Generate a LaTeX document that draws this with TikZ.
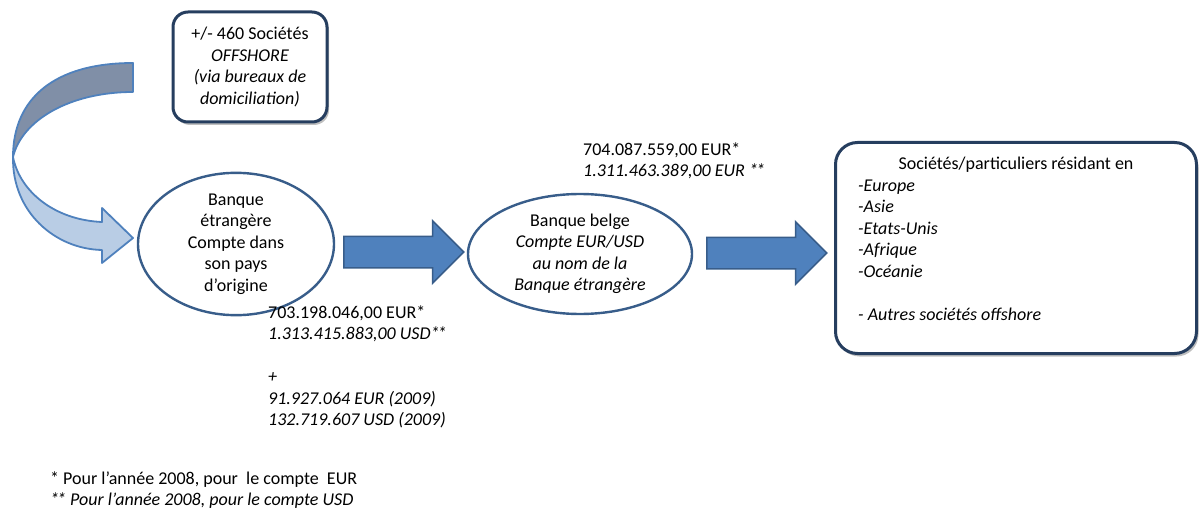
\documentclass[tikz,border=0pt]{standalone}
\usepackage{fontspec}
\setmainfont{Carlito}
\usepackage{tikz}
\usetikzlibrary{shapes.geometric,shapes.arrows,shadows}

\definecolor{edgeblue}{RGB}{56,93,138}
\definecolor{fillblue}{RGB}{79,129,189}
\definecolor{boxnavy}{RGB}{38,62,95}
\definecolor{curvedark}{RGB}{128,143,167}
\definecolor{curvelight}{RGB}{185,205,229}

\newcommand{\twostars}{*\kern-2pt*}

\tikzset{
  txt/.style={font=\fontsize{18}{21.5}\selectfont, inner sep=0pt},
  roundbox/.style={txt, rectangle, draw=boxnavy, line width=3pt, fill=white,
    drop shadow={shadow xshift=2pt, shadow yshift=-3pt, fill=black, opacity=.25}},
  bank/.style={txt, ellipse, draw=edgeblue, line width=2.4pt, align=center},
  flow/.style={single arrow, single arrow head extend=15.5pt, single arrow tip angle=90,
    minimum height=120pt, inner xsep=0pt, inner ysep=15pt,
    fill=fillblue, draw=edgeblue, line width=1.5pt, anchor=tail}
}

\begin{document}
\begin{tikzpicture}[x=1pt,y=-1pt]
\useasboundingbox (0,0) rectangle (1203,508);

\begin{scope}[draw=fillblue, line width=1.8pt, line join=round]
    \filldraw[fill=curvedark] (133,63) .. controls (55,63) and (13,98) .. (13,157)
        .. controls (22,120) and (70,92) .. (133,92) -- cycle;
    \filldraw[fill=curvelight] (13,157) .. controls (12,212) and (55,249) .. (102,250)
        -- (102,263) -- (133,238) -- (102,208) -- (102,222)
        .. controls (55,220) and (20,192) .. (13,157) -- cycle;
\end{scope}

\node[roundbox, rounded corners=15pt, align=center, minimum width=154pt, minimum height=110pt] (off) at (250,67)
    {+/- 460 Sociétés\\\textit{OFFSHORE}\\\textit{(via bureaux de}\\\textit{domiciliation)}};

\node[bank, minimum width=196pt, minimum height=122pt] (etr) at (236,244)
    {Banque\\étrangère\\Compte dans\\son pays\\d’origine};
\node[bank, minimum width=224pt, minimum height=120pt] (bel) at (580,254)
    {Banque belge\\\textit{Compte EUR/USD}\\\textit{au nom de la}\\\textit{Banque étrangère}};

\node[flow] (f1) at (343,252) {};
\node[flow] (f2) at (706,253) {};

\node[roundbox, rounded corners=22pt, minimum width=361pt, minimum height=211pt] (dest) at (1016,248) {};
\node[txt] (destt) at (1016,165) {Sociétés/particuliers résidant en};
\node[txt, align=left, anchor=north west] (destl) at (858,176)
    {\strut\textit{-Europe}\\\textit{-Asie}\\\textit{-Etats-Unis}\\\textit{-Afrique}\\\textit{-Océanie}\\\mbox{}\\\textit{- Autres sociétés offshore}};

\node[txt, align=left, anchor=north west] (sum1) at (268,303)
    {\strut 703.198.046,00 EUR*\\\textit{1.313.415.883,00 USD\twostars}\\\mbox{}\\\textit{+}\\\textit{91.927.064 EUR (2009)}\\\textit{132.719.607 USD (2009)}};
\node[txt, align=left, anchor=north west] (sum2) at (583,140)
    {\strut 704.087.559,00 EUR*\\\textit{1.311.463.389,00 EUR \twostars}};

\node[txt, align=left, anchor=north west] (note) at (50,469)
    {\strut * Pour l’année 2008, pour~ le compte~ EUR\\\textit{\twostars\ Pour l’année 2008, pour le compte USD}};
\end{tikzpicture}
\end{document}
